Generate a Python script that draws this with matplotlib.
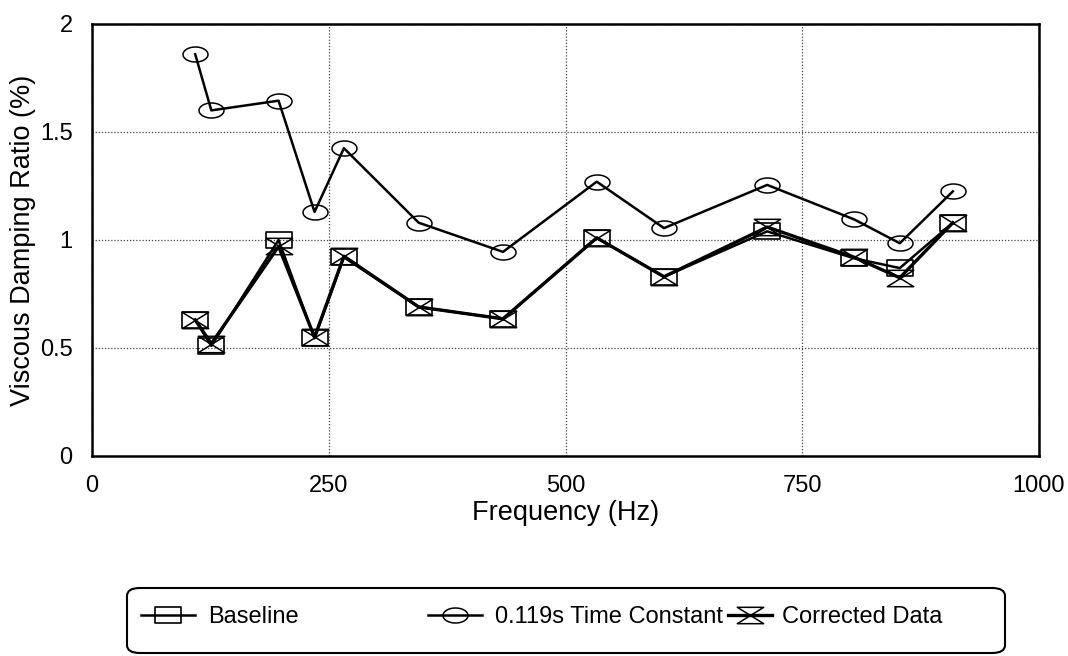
import matplotlib
matplotlib.use("Agg")
import matplotlib.pyplot as plt
import numpy as np
from matplotlib.path import Path
from matplotlib.patches import FancyBboxPatch

plt.rcParams['font.family'] = ['Liberation Sans', 'DejaVu Sans']

# data
freq = [109, 126, 197, 235, 266, 345, 434, 533, 604, 713, 805, 853, 909]
baseline = [0.63, 0.51, 1.00, 0.545, 0.92, 0.69, 0.635, 1.01, 0.83, 1.04, 0.915, 0.87, 1.08]
time_const = [1.86, 1.60, 1.645, 1.13, 1.425, 1.08, 0.945, 1.27, 1.055, 1.255, 1.095, 0.985, 1.225]
corrected = [0.63, 0.52, 0.97, 0.55, 0.925, 0.69, 0.635, 1.01, 0.83, 1.06, 0.92, 0.825, 1.08]

xticks = [0, 250, 500, 750, 1000]
yticks = [0, 0.5, 1, 1.5, 2]
labels = ["Baseline", "0.119s Time Constant", "Corrected Data"]

# flat markers like the original
t = np.linspace(0, 2 * np.pi, 60)
ellipse = Path(np.column_stack([np.cos(t), 0.6 * np.sin(t)]), closed=True)
rect = Path([(-1, -0.62), (1, -0.62), (1, 0.62), (-1, 0.62), (-1, -0.62)], closed=True)
hourglass = Path([(-1, 0.62), (1, 0.62), (-1, -0.62), (1, -0.62), (-1, 0.62)], closed=True)

fig = plt.figure(figsize=(10.68, 6.56), dpi=100)
ax = fig.add_axes([92 / 1068, 1 - 456 / 656, (1039 - 92) / 1068, (456 - 24) / 656])

l1, = ax.plot(freq, baseline, color='black', lw=1.8, marker=rect, ms=19,
              mfc='none', mec='black', mew=1.2)
l2, = ax.plot(freq, time_const, color='black', lw=1.8, marker=ellipse, ms=18,
              mfc='none', mec='black', mew=1.1)
l3, = ax.plot(freq, corrected, color='black', lw=2.4, marker=hourglass, ms=19,
              mfc='none', mec='black', mew=1.1)

ax.set_xlim(0, 1000)
ax.set_ylim(0, 2)
ax.set_xticks(xticks)
ax.set_yticks(yticks)
ax.set_xticklabels([str(v) for v in xticks])
ax.set_yticklabels(["0", "0.5", "1", "1.5", "2"])
ax.tick_params(length=0, labelsize=17)
ax.tick_params(axis='x', pad=14)
ax.tick_params(axis='y', pad=14)
ax.grid(True, color='#444444', linestyle=(0, (1, 1.5)), linewidth=0.9)
ax.set_axisbelow(True)
for s in ax.spines.values():
    s.set_linewidth(1.8)

ax.set_xlabel("Frequency (Hz)", fontsize=19.5, labelpad=2)
ax.set_ylabel("Viscous Damping Ratio (%)", fontsize=19.5, labelpad=3)

# legend frame, rounded box along the bottom
box = FancyBboxPatch((127 / 1068, 3 / 656), (1005 - 127) / 1068, (655 - 590) / 656,
                     boxstyle="round,pad=0,rounding_size=0.012",
                     transform=fig.transFigure, facecolor='white',
                     edgecolor='black', linewidth=1.5)
fig.patches.append(box)

ycen = 1 - 617 / 656
for h, lab, x0, hl, tp in [(l1, labels[0], 141, 2.3, 0.55),
                            (l2, labels[1], 428, 2.3, 0.55),
                            (l3, labels[2], 728, 1.85, 0.45)]:
    leg = fig.legend([h], [lab], loc='center left', bbox_to_anchor=(x0 / 1068, ycen),
                     frameon=False, fontsize=17, borderpad=0, borderaxespad=0,
                     handlelength=hl, handletextpad=tp)

fig.savefig("out.png", dpi=100)
